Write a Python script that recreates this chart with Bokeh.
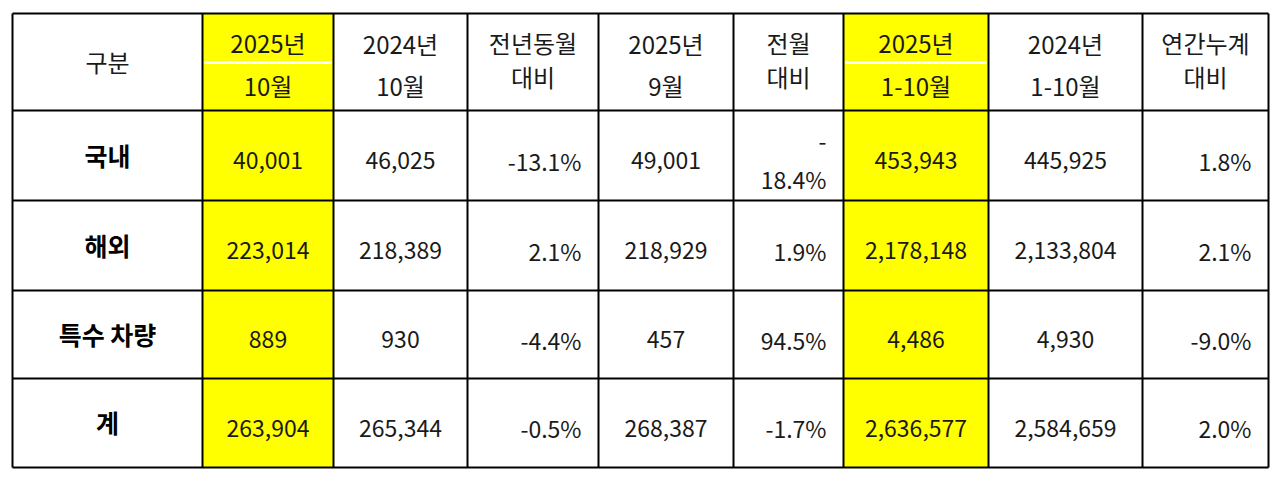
from bokeh.plotting import figure
from bokeh.models import Range1d
from bokeh.core.properties import value
from bokeh.embed import file_html
from bokeh.resources import INLINE

# ---- data ----
headers = ["구분", "2025년\n10월", "2024년\n10월", "전년동월\n대비", "2025년\n9월",
           "전월\n대비", "2025년\n1-10월", "2024년\n1-10월", "연간누계\n대비"]
categories = ["국내", "해외", "특수 차량", "계"]
oct_2025 = [40001, 223014, 889, 263904]
oct_2024 = [46025, 218389, 930, 265344]
yoy_pct = [-13.1, 2.1, -4.4, -0.5]
sep_2025 = [49001, 218929, 457, 268387]
mom_pct = [-18.4, 1.9, 94.5, -1.7]
ytd_2025 = [453943, 2178148, 4486, 2636577]
ytd_2024 = [445925, 2133804, 4930, 2584659]
ytd_pct = [1.8, 2.1, -9.0, 2.0]
highlight_cols = [1, 6]

# ---- layout ----
col_edges = [12, 202, 333, 467, 598, 733, 843, 988, 1142, 1268]
row_edges = [13, 110, 200, 290, 378, 467]
align = ["center", "center", "center", "right", "center", "right", "center", "center", "right"]
FONT = value("Noto Sans CJK KR")
INK = "#1a1a1a"
W, H = 1272, 470

p = figure(width=W, height=H, output_backend="svg", toolbar_location=None,
           x_range=Range1d(0, W), y_range=Range1d(H, 0), min_border=0)
p.axis.visible = False
p.grid.visible = False
p.outline_line_color = None
p.background_fill_color = "white"

# yellow columns
for c in highlight_cols:
    p.quad(left=[col_edges[c]], right=[col_edges[c + 1]], top=[row_edges[0]],
           bottom=[row_edges[-1]], fill_color="#FFFF00", line_color=None)
    p.segment(x0=[col_edges[c] + 2], x1=[col_edges[c + 1] - 2], y0=[62], y1=[62],
              line_color="white", line_width=3)

# grid lines
for x in col_edges:
    p.segment(x0=[x], x1=[x], y0=[row_edges[0]], y1=[row_edges[-1]], line_color="black", line_width=2)
for y in row_edges:
    p.segment(x0=[col_edges[0]], x1=[col_edges[-1]], y0=[y], y1=[y], line_color="black", line_width=2)

HFS = "24px"
FS = "23px"
# header text
for i, h in enumerate(headers):
    cx = (col_edges[i] + col_edges[i + 1]) / 2
    lines = h.split("\n")
    if len(lines) == 1:
        ys = [61]
    elif i in highlight_cols:
        ys = [42, 85]
    elif "대비" in h:
        ys = [42, 76]
    else:
        ys = [43, 85]
    p.text(x=[cx] * len(lines), y=ys, text=lines, text_font=FONT, text_font_size=HFS,
           text_color=INK, text_align="center", text_baseline="middle")

fmt_n = lambda v: f"{v:,}"
fmt_p = lambda v: f"{v:.1f}%"
columns = [categories,
           [fmt_n(v) for v in oct_2025], [fmt_n(v) for v in oct_2024], [fmt_p(v) for v in yoy_pct],
           [fmt_n(v) for v in sep_2025], [fmt_p(v) for v in mom_pct],
           [fmt_n(v) for v in ytd_2025], [fmt_n(v) for v in ytd_2024], [fmt_p(v) for v in ytd_pct]]

for r in range(len(categories)):
    cy = (row_edges[r + 1] + row_edges[r + 2]) / 2 + 5
    for c, col in enumerate(columns):
        t = col[r]
        if align[c] == "right":
            x = col_edges[c + 1] - 17
        else:
            x = (col_edges[c] + col_edges[c + 1]) / 2
        if c == 0:
            p.text(x=[x], y=[cy - 6], text=[t], text_font=FONT, text_font_size="25px",
                   text_font_style="bold", text_color="black", text_align="center",
                   text_baseline="middle")
            continue
        if c == 5 and len(t) > 5:
            p.text(x=[x, x], y=[cy - 19, cy + 18], text=[t[0], t[1:]], text_font=FONT,
                   text_font_size=FS, text_color=INK, text_align=align[c], text_baseline="middle")
            continue
        p.text(x=[x], y=[cy], text=[t], text_font=FONT, text_font_size=FS,
               text_color=INK, text_align=align[c], text_baseline="middle")

open("out.html", "w").write(file_html(p, INLINE))
